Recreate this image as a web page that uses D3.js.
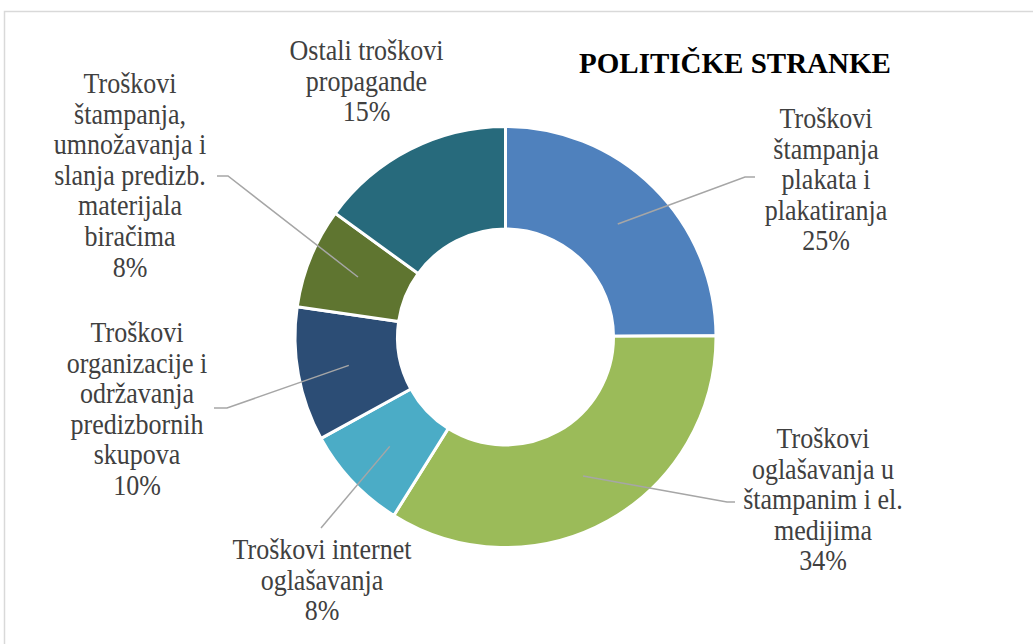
<!DOCTYPE html>
<html><head><meta charset="utf-8">
<script src="https://cdn.jsdelivr.net/npm/d3@7"></script>
<style>body{margin:0;background:#fff}svg{display:block}</style>
</head><body>
<svg id="c" width="1033" height="644"></svg>
<script>
const title = "POLITIČKE STRANKE";
const categories = [
  "Troškovi štampanja plakata i plakatiranja",
  "Troškovi oglašavanja u štampanim i el. medijima",
  "Troškovi internet oglašavanja",
  "Troškovi organizacije i održavanja predizbornih skupova",
  "Troškovi štampanja, umnožavanja i slanja predizb. materijala biračima",
  "Ostali troškovi propagande"
];
const categoryLines = [
  ["Troškovi", "štampanja", "plakata i", "plakatiranja"],
  ["Troškovi", "oglašavanja u", "štampanim i el.", "medijima"],
  ["Troškovi internet", "oglašavanja"],
  ["Troškovi", "organizacije i", "održavanja", "predizbornih", "skupova"],
  ["Troškovi", "štampanja,", "umnožavanja i", "slanja predizb.", "materijala", "biračima"],
  ["Ostali troškovi", "propagande"]
];
const values = [24.9, 34.0, 8.1, 10.3, 7.7, 15.0];
const percentLabels = ["25%", "34%", "8%", "10%", "8%", "15%"];
const colors = ["#4F81BD", "#9BBB59", "#4BACC6", "#2C4D75", "#5F7530", "#276A7C"];

// layout of labels (positions only)
const labelLayout = [
  {cx: 826, y0: 128, bend: [745, 177], end: [755, 177]},
  {cx: 823, y0: 448, bend: [727, 502], end: [735, 502]},
  {cx: 322, y0: 559, bend: [321, 528], end: [321, 528]},
  {cx: 137, y0: 342, bend: [227, 408], end: [214, 408]},
  {cx: 130, y0: 93,  bend: [228, 176], end: [217, 176]},
  {cx: 366.5, y0: 60, bend: null, end: null}
];

const svg = d3.select("#c");
// chart border
svg.append("rect").attr("x", 4.5).attr("y", 11.5).attr("width", 1100).attr("height", 700)
  .attr("fill", "#fff").attr("stroke", "#D9D9D9").attr("stroke-width", 1.5);

const cx = 505.5, cy = 337, R = 210.5, r0 = 108;
const pie = d3.pie().sort(null).value(d => d).startAngle(0).endAngle(2 * Math.PI);
const arcs = pie(values);
const arc = d3.arc().innerRadius(r0).outerRadius(R);
const g = svg.append("g").attr("transform", `translate(${cx},${cy})`);
g.selectAll("path.slice").data(arcs).join("path")
  .attr("class", "slice")
  .attr("d", arc)
  .attr("fill", (d, i) => colors[i])
  .attr("stroke", "#fff").attr("stroke-width", 3).attr("stroke-linejoin", "miter");

// leader lines
arcs.forEach((a, i) => {
  const L = labelLayout[i];
  if (!L.bend) return;
  const c = arc.centroid(a);
  const p0 = [cx + c[0], cy + c[1]];
  svg.append("polyline")
    .attr("points", [p0, L.bend, L.end].map(p => p.join(",")).join(" "))
    .attr("fill", "none").attr("stroke", "#A6A6A6").attr("stroke-width", 1.5);
});

// labels
const lh = 30.6;
categoryLines.forEach((lines, i) => {
  const L = labelLayout[i];
  lines.concat([percentLabels[i]]).forEach((s, k) => {
    svg.append("text")
      .attr("transform", `translate(${L.cx},${L.y0 + k * lh}) scale(1,1.1)`)
      .attr("text-anchor", "middle")
      .attr("font-family", "'Liberation Serif','Times New Roman',serif")
      .attr("font-size", 26).attr("fill", "#404040")
      .text(s);
  });
});

svg.append("text").attr("x", 735).attr("y", 73).attr("text-anchor", "middle")
  .attr("font-family", "'Liberation Serif','Times New Roman',serif")
  .attr("font-size", 29).attr("font-weight", "bold").attr("fill", "#000")
  .text(title);
</script>
</body></html>
